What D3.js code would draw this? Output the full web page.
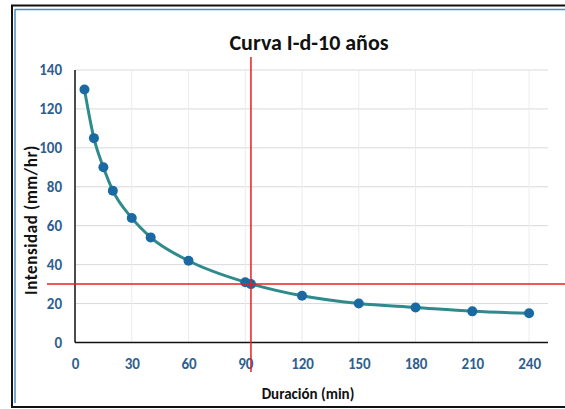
<!DOCTYPE html>
<html><head><meta charset="utf-8">
<script src="https://cdn.jsdelivr.net/npm/d3@7"></script>
<style>body{margin:0;background:#fff}svg{display:block}</style>
</head><body>
<script>
const duration = [5, 10, 15, 20, 30, 40, 60, 90, 120, 150, 180, 210, 240];
const intensity = [130, 105, 90, 78, 64, 54, 42, 31, 24, 20, 18, 16, 15];
const intersection = [{d: 93, i: 30}];
const xTicks = [0, 30, 60, 90, 120, 150, 180, 210, 240];
const yTicks = [0, 20, 40, 60, 80, 100, 120, 140];
const title = "Curva I-d-10 años";
const xLabel = "Duración (min)";
const yLabel = "Intensidad (mm/hr)";

const W = 565, H = 409;
const font = "Carlito, 'Liberation Sans Narrow', 'Liberation Sans', Arial, sans-serif";
const svg = d3.select("body").append("svg").attr("width", W).attr("height", H);

// frame
svg.append("line").attr("x1", 11).attr("x2", W).attr("y1", 5.5).attr("y2", 5.5).attr("stroke", "#111").attr("stroke-width", 2);
svg.append("line").attr("x1", 12).attr("x2", 12).attr("y1", 5).attr("y2", 408).attr("stroke", "#111").attr("stroke-width", 2);
svg.append("line").attr("x1", 11).attr("x2", W).attr("y1", 407).attr("y2", 407).attr("stroke", "#111").attr("stroke-width", 2);
svg.append("line").attr("x1", 15).attr("x2", W).attr("y1", 9.5).attr("y2", 9.5).attr("stroke", "#4a8cc4").attr("stroke-width", 1.5);
svg.append("line").attr("x1", 15).attr("x2", 15).attr("y1", 9).attr("y2", 403).attr("stroke", "#4a8cc4").attr("stroke-width", 1.5);

const x = d3.scaleLinear().domain([0, 250]).range([75, 548]);
const y = d3.scaleLinear().domain([0, 140]).range([342.5, 70]);

// gridlines
svg.append("g").selectAll("line").data(yTicks.filter(t => t > 0)).join("line")
  .attr("x1", x(0)).attr("x2", x(250)).attr("y1", d => y(d)).attr("y2", d => y(d))
  .attr("stroke", "#d9d9d9").attr("stroke-width", 1);
svg.append("g").selectAll("line").data(xTicks.filter(t => t > 0)).join("line")
  .attr("x1", d => x(d)).attr("x2", d => x(d)).attr("y1", y(0)).attr("y2", y(140))
  .attr("stroke", "#ececec").attr("stroke-width", 1);

// axes
const xAxis = svg.append("g").attr("transform", `translate(0,${y(0)})`)
  .call(d3.axisBottom(x).tickValues(xTicks).tickSize(0).tickPadding(16));
xAxis.select(".domain").attr("stroke", "#111").attr("stroke-width", 1.5).attr("d", `M${x(0)},0H${x(250)}`);
const yAxis = svg.append("g").attr("transform", `translate(${x(0)},0)`)
  .call(d3.axisLeft(y).tickValues(yTicks).tickSize(0).tickPadding(13));
yAxis.select(".domain").attr("stroke", "#111").attr("stroke-width", 1.5).attr("d", `M0,${y(0)}V${y(140)}`);
svg.selectAll(".tick text").attr("font-family", font).attr("font-size", 15).attr("font-weight", "bold").attr("fill", "#2f5f8f");

// curve
const pts = duration.map((d, k) => ({d, i: intensity[k]}));
svg.append("path").datum(pts)
  .attr("d", d3.line().x(p => x(p.d)).y(p => y(p.i)).curve(d3.curveMonotoneX))
  .attr("fill", "none").attr("stroke", "#2e8a8c").attr("stroke-width", 3);
svg.append("g").selectAll("circle").data(pts.concat(intersection)).join("circle")
  .attr("cx", p => x(p.d)).attr("cy", p => y(p.i)).attr("r", 5).attr("fill", "#1a69a3");

// red reference lines
svg.append("line").attr("x1", x(93)).attr("x2", x(93)).attr("y1", 57).attr("y2", 372).attr("stroke", "#e8201f").attr("stroke-width", 1.5);
svg.append("line").attr("x1", 47).attr("x2", W).attr("y1", y(30)).attr("y2", y(30)).attr("stroke", "#e8201f").attr("stroke-width", 1.5);

// titles
svg.append("text").attr("x", 309).attr("y", 50).attr("text-anchor", "middle")
  .attr("font-family", font).attr("font-size", 22).attr("font-weight", "bold").attr("fill", "#111").text(title);
svg.append("text").attr("x", 308).attr("y", 399).attr("text-anchor", "middle")
  .attr("font-family", font).attr("font-size", 15).attr("font-weight", "bold").attr("fill", "#111").text(xLabel);
svg.append("text").attr("transform", "translate(37,220) rotate(-90)").attr("text-anchor", "middle")
  .attr("font-family", font).attr("font-size", 17).attr("font-weight", "bold").attr("fill", "#111")
  .attr("letter-spacing", 0.6).text(yLabel);
</script>
</body></html>
